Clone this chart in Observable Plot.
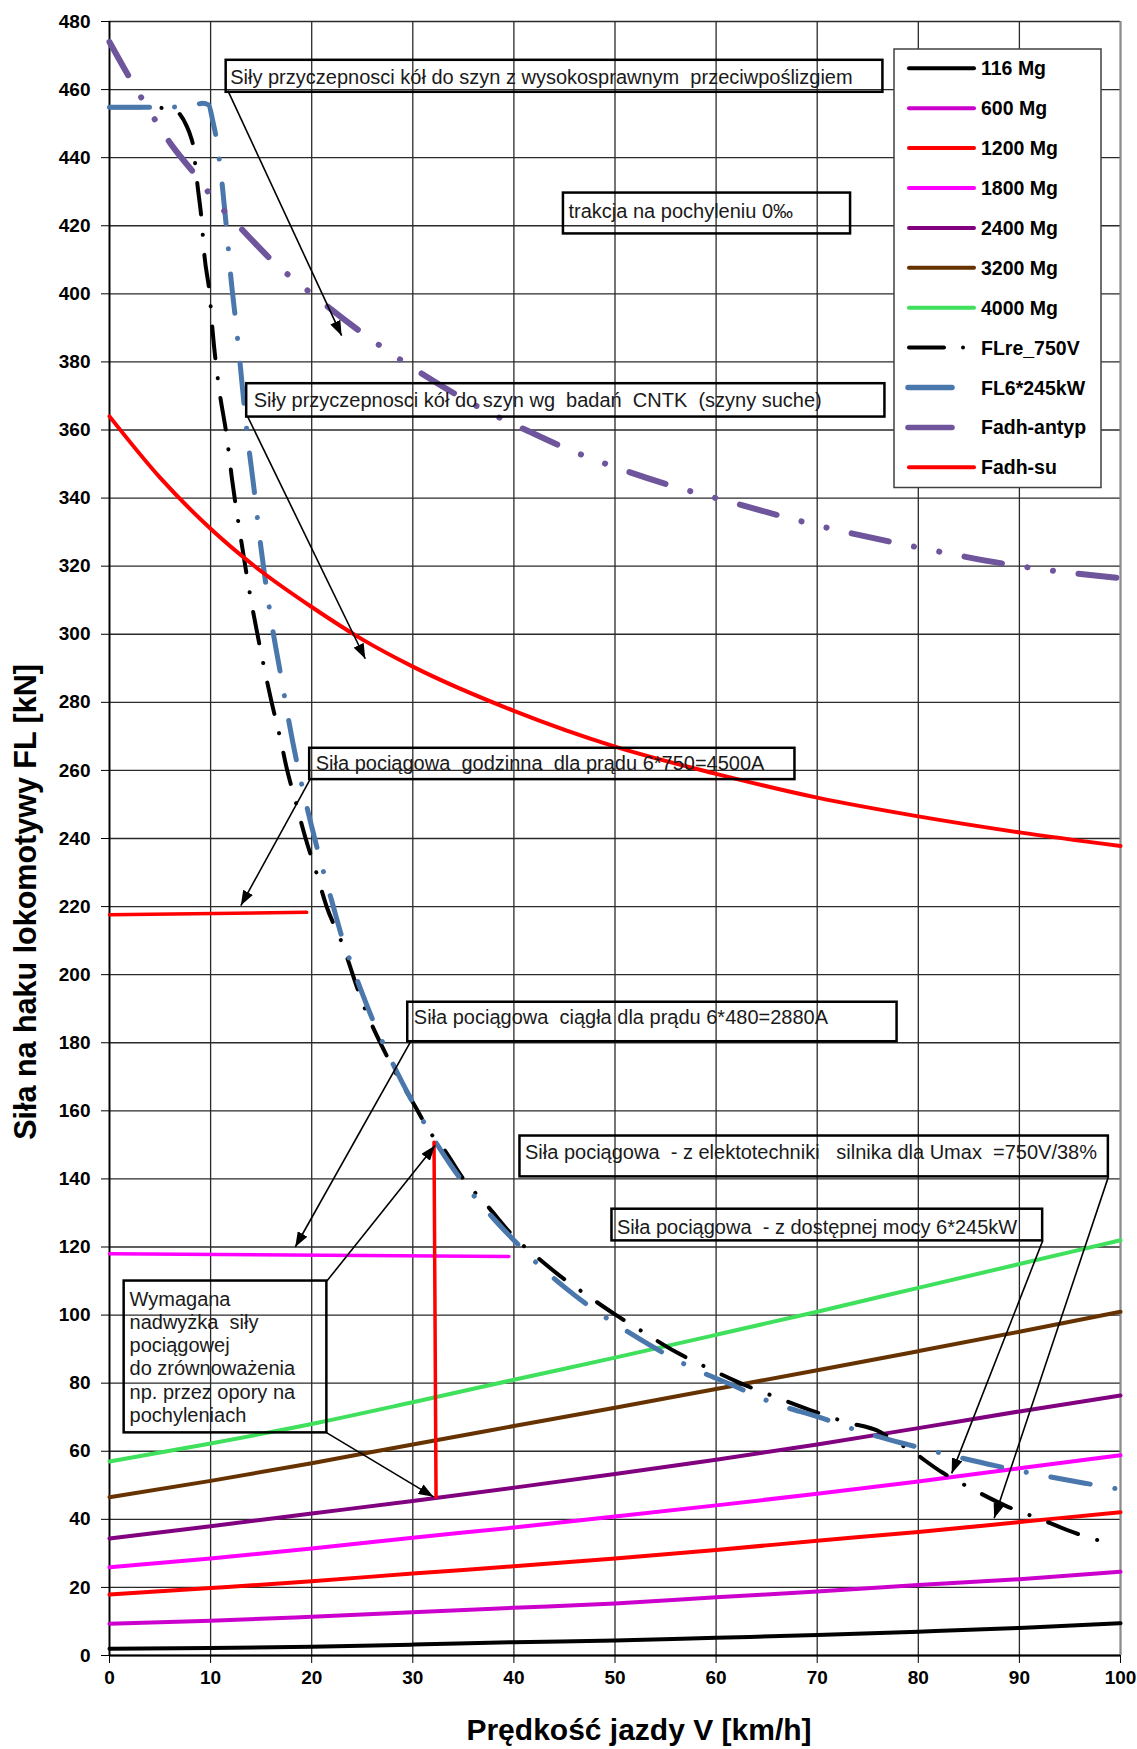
<!DOCTYPE html>
<html lang="pl">
<head>
<meta charset="utf-8">
<title>Siła na haku lokomotywy</title>
<script src="https://cdn.jsdelivr.net/npm/d3@7"></script>
<script src="https://cdn.jsdelivr.net/npm/@observablehq/plot@0.6"></script>
<style>
  html, body { margin: 0; padding: 0; background: #fff; }
  svg { display: block; }
</style>
</head>
<body>
<div id="chart"></div>
<script>
// ---------------- data ----------------
const speed = [0, 10, 20, 30, 40, 50, 60, 70, 80, 90, 100];
const res116 = [2.0, 2.2, 2.6, 3.2, 3.9, 4.4, 5.2, 6.0, 7.0, 8.1, 9.5];
const res600 = [9.3, 10.2, 11.4, 12.7, 14.0, 15.3, 17.1, 18.8, 20.7, 22.4, 24.6];
const res1200 = [17.9, 19.8, 21.8, 24.1, 26.2, 28.5, 31.0, 33.7, 36.3, 39.2, 42.1];
const res1800 = [25.9, 28.5, 31.4, 34.6, 37.6, 40.8, 44.1, 47.5, 51.1, 55.0, 58.8];
const res2400 = [34.4, 38.0, 41.7, 45.4, 49.3, 53.3, 57.5, 62.0, 66.8, 71.7, 76.4];
const res3200 = [46.5, 51.3, 56.5, 62.0, 67.4, 72.8, 78.3, 83.8, 89.4, 95.1, 101.0];
const res4000 = [57.0, 62.3, 68.0, 74.4, 81.0, 87.5, 94.2, 101.0, 108.0, 115.0, 122.0];

const flReSpeed = [0, 3, 5.3, 6.5, 7.0, 7.6, 8.0, 8.3, 8.5, 8.7, 9.1, 9.4, 9.9, 10.2, 10.8, 11.6, 12.1, 13, 14, 15, 16, 17, 17.5, 18.4, 19.4, 20.4, 21.5, 22.9, 25, 27.8, 30, 32, 33, 35, 37.4, 40, 42.5, 45, 47, 50, 52.8, 56, 59.3, 62.4, 66, 69.3, 72.8, 76.2, 77.5, 79.2, 82.3, 85.4, 88.7, 92.1, 95.5, 99.3];
const flReForce = [454.8, 454.8, 454.6, 454, 452.6, 449.5, 446.5, 443, 437.5, 432, 422, 411, 400, 389, 373, 358, 346, 328, 310, 294.5, 280.5, 268, 261, 251, 240, 230.6, 219.8, 210, 192, 174, 162.5, 152.5, 149, 140, 132, 123, 116.5, 110.5, 106.3, 100.2, 95, 89.2, 84.3, 80, 75.8, 72.1, 68.6, 65.7, 63.3, 60.3, 53.9, 48.8, 43.9, 40, 36, 32.6];

const fl6Speed = [0, 5, 8.5, 9.2, 9.8, 10.2, 10.6, 11.0, 11.6, 12.0, 12.5, 13.0, 13.5, 14.3, 15, 16, 17, 18.1, 19, 20, 21, 22, 23.1, 24, 25, 26, 28, 30, 32.2, 34, 36, 38, 40, 42.5, 45, 47.5, 50, 53.5, 57.4, 61.7, 65.8, 70.1, 74.4, 78.9, 83.2, 87.7, 92.1, 96.7, 100];
const fl6Force = [454.8, 454.8, 455.5, 456, 455.5, 451, 445, 436, 418.4, 405, 391.5, 377, 362, 342.6, 325, 304, 287, 268.7, 256, 243.5, 232, 221.5, 210, 202.5, 194.5, 187, 174, 162.5, 151.1, 143, 135.2, 128.3, 122, 114.6, 108.2, 102.5, 97.5, 91.1, 84.8, 79.3, 74.0, 70.1, 65.7, 62.0, 58.8, 55.7, 53.0, 50.5, 48.8];

const fadhAntypSpeed = [0, 2.2, 4.7, 6, 8.7, 10.1, 13.2, 16, 20, 25, 31.3, 37.1, 41.4, 45.4, 49.9, 56.2, 60, 70, 80, 90, 100];
const fadhAntypForce = [474, 462.4, 450.2, 444.3, 434.2, 428.6, 418.6, 410, 400, 388.5, 375.8, 365.8, 359.7, 354.3, 349.2, 343.1, 340, 332, 325.5, 320, 316.5];

const fadhSuSpeed = [0, 5, 10, 15, 20, 25, 30, 40, 50, 60, 70, 80, 90, 100];
const fadhSuForce = [364, 346, 331, 318.5, 308, 298.5, 290.5, 277.5, 267, 259, 252, 246.5, 241.8, 237.8];

// extra marker segments
const hourlySpeed = [0, 19.5];
const hourlyForce = [217.6, 218.3];
const contSpeed = [0, 39.5];
const contForce = [118.0, 117.2];
const marginSpeed = [32.1, 32.3];
const marginForce = [150.8, 46.6];

const xTickValues = [0, 10, 20, 30, 40, 50, 60, 70, 80, 90, 100];
const yTickValues = [0, 20, 40, 60, 80, 100, 120, 140, 160, 180, 200, 220, 240, 260, 280, 300, 320, 340, 360, 380, 400, 420, 440, 460, 480];

const legendNames = ["116 Mg", "600 Mg", "1200 Mg", "1800 Mg", "2400 Mg", "3200 Mg", "4000 Mg", "FLre_750V", "FL6*245kW", "Fadh-antyp", "Fadh-su"];
const legendColors = ["#000000", "#cc00cc", "#ff0000", "#ff00ff", "#800080", "#663300", "#3ee05c", "#000000", "#4a78ad", "#6e559c", "#ff0000"];
const legendKinds = ["solid", "solid", "solid", "solid", "solid", "solid", "solid", "dashdot", "short", "short", "solid"];

// annotation texts (data coordinates: km/h, kN)
const noteTexts = [
  "Siły przyczepnosci kół do szyn z wysokosprawnym  przeciwpoślizgiem",
  "trakcja na pochyleniu 0‰",
  "Siły przyczepnosci kół do szyn wg  badań  CNTK  (szyny suche)",
  "Siła pociągowa  godzinna  dla prądu 6*750=4500A",
  "Siła pociągowa  ciągła dla prądu 6*480=2880A",
  "Siła pociągowa  - z elektotechniki   silnika dla Umax  =750V/38%",
  "Siła pociągowa  - z dostępnej mocy 6*245kW"
];
const noteTextX = [11.94, 45.4, 14.27, 20.4, 30.1, 41.1, 50.2];
const noteTextY = [461.5, 422.3, 366.7, 260.1, 185.4, 145.9, 123.9];
const noteBoxX1 = [11.54, 44.9, 13.57, 19.8, 29.5, 40.6, 49.7, 1.45];
const noteBoxX2 = [76.5, 73.3, 76.7, 67.8, 77.9, 98.8, 92.3, 21.5];
const noteBoxY1 = [459.2, 417.6, 363.8, 257.3, 180.3, 140.6, 121.8, 65.4];
const noteBoxY2 = [468.6, 429.6, 373.6, 266.5, 191.9, 152.6, 131.1, 110.0];
const boxHLines = ["Wymagana", "nadwyżka  siły", "pociągowej", "do zrównoważenia", "np. przez opory na", "pochyleniach"];
const boxHTextX = 1.98, boxHTextY = 102.7, boxHLineStep = 6.81;
const arrowX1 = [11.71, 13.69, 19.83, 29.8, 21.5, 21.5, 98.8, 92.3];
const arrowY1 = [459.7, 363.8, 257.3, 180.4, 110.0, 65.4, 140.6, 121.8];
const arrowX2 = [22.96, 25.3, 12.99, 18.37, 32.2, 32.05, 87.5, 83.3];
const arrowY2 = [387.7, 292.8, 220.3, 120.0, 149.8, 46.6, 40.3, 53.5];

// ---------------- build tables ----------------
const FONT = "'Liberation Sans', Arial, Helvetica, sans-serif";
const rows = (xs, ys) => xs.map((x, i) => ({x, y: ys[i]}));
const resistance = [
  {data: rows(speed, res116), color: legendColors[0]},
  {data: rows(speed, res600), color: legendColors[1]},
  {data: rows(speed, res1200), color: legendColors[2]},
  {data: rows(speed, res1800), color: legendColors[3]},
  {data: rows(speed, res2400), color: legendColors[4]},
  {data: rows(speed, res3200), color: legendColors[5]},
  {data: rows(speed, res4000), color: legendColors[6]}
];
const notes = noteTexts.map((t, i) => ({t, x: noteTextX[i], y: noteTextY[i]}));
boxHLines.forEach((t, i) => notes.push({t, x: boxHTextX, y: boxHTextY - i * boxHLineStep}));
const boxes = noteBoxX1.map((x1, i) => ({x1, x2: noteBoxX2[i], y1: noteBoxY1[i], y2: noteBoxY2[i]}));
const arrows = arrowX1.map((x1, i) => ({x1, y1: arrowY1[i], x2: arrowX2[i], y2: arrowY2[i]}));

const chart = Plot.plot({
  width: 1137,
  height: 1749,
  marginLeft: 109,
  marginRight: 17,
  marginTop: 21,
  marginBottom: 94,
  style: {fontFamily: FONT, background: "#fff", color: "#000"},
  x: {domain: [0, 100]},
  y: {domain: [0, 480]},
  marks: [
    Plot.gridX({ticks: xTickValues, stroke: "#2a2a2a", strokeOpacity: 1, strokeWidth: 1.3}),
    Plot.gridY({ticks: yTickValues, stroke: "#2a2a2a", strokeOpacity: 1, strokeWidth: 1.3}),
    Plot.ruleX([100], {stroke: "#8c8c8c", strokeWidth: 2}),
    Plot.ruleX([0], {stroke: "#000", strokeWidth: 1.8}),
    Plot.ruleY([0], {stroke: "#000", strokeWidth: 1.8}),
    ...resistance.map(s => Plot.line(s.data, {x: "x", y: "y", stroke: s.color, strokeWidth: 4, curve: "monotone-x"})),
    Plot.line(rows(hourlySpeed, hourlyForce), {x: "x", y: "y", stroke: "#ff0000", strokeWidth: 3.5}),
    Plot.line(rows(contSpeed, contForce), {x: "x", y: "y", stroke: "#ff00ff", strokeWidth: 3.5}),
    Plot.line(rows(flReSpeed, flReForce), {x: "x", y: "y", stroke: "#000", strokeWidth: 4, curve: "monotone-x",
      strokeDasharray: "32,20,0.1,20", strokeLinecap: "round"}),
    Plot.line(rows(fl6Speed, fl6Force), {x: "x", y: "y", stroke: legendColors[8], strokeWidth: 5, curve: "monotone-x",
      strokeDasharray: "40,25,0.1,25", strokeLinecap: "round"}),
    Plot.line(rows(fadhAntypSpeed, fadhAntypForce), {x: "x", y: "y", stroke: legendColors[9], strokeWidth: 6, curve: "monotone-x",
      strokeDasharray: "38,25.7,0.1,25.7,0.1,25.7", strokeLinecap: "round"}),
    Plot.line(rows(fadhSuSpeed, fadhSuForce), {x: "x", y: "y", stroke: "#ff0000", strokeWidth: 4, curve: "monotone-x"}),
    Plot.line(rows(marginSpeed, marginForce), {x: "x", y: "y", stroke: "#ff0000", strokeWidth: 3.5}),
    Plot.rect(boxes, {x1: "x1", x2: "x2", y1: "y1", y2: "y2", fill: "none", stroke: "#000", strokeWidth: 2.5}),
    Plot.text(notes, {x: "x", y: "y", text: "t", textAnchor: "start", lineAnchor: "bottom", fontSize: 20, fill: "#1a1a1a"}),
    Plot.link(arrows, {x1: "x1", y1: "y1", x2: "x2", y2: "y2", stroke: "#000", strokeWidth: 1.6}),
    Plot.axisX({ticks: xTickValues, tickSize: 8, tickPadding: 7, fontSize: 19, fontWeight: "bold", label: null}),
    Plot.axisY({ticks: yTickValues, tickSize: 8, tickPadding: 11, fontSize: 19, fontWeight: "bold", label: null})
  ]
});

document.getElementById("chart").appendChild(chart);
const svg = d3.select(chart);

// filled arrowheads
const defs = svg.insert("defs", ":first-child");
defs.append("marker")
  .attr("id", "arrowHead")
  .attr("viewBox", "0 0 10 10")
  .attr("refX", 10).attr("refY", 5)
  .attr("markerWidth", 15).attr("markerHeight", 11)
  .attr("markerUnits", "userSpaceOnUse")
  .attr("preserveAspectRatio", "none")
  .attr("orient", "auto")
  .append("path").attr("d", "M0,0L10,5L0,10Z").attr("fill", "#000");
svg.selectAll('g[aria-label="link"] path').attr("marker-end", "url(#arrowHead)");
svg.selectAll('g[aria-label="text"] text').style("white-space", "pre");

// legend
const lg = svg.append("g").attr("font-family", FONT).attr("font-weight", "bold").attr("font-size", 19.5)
  .attr("text-anchor", "start");
lg.append("rect").attr("x", 894).attr("y", 49).attr("width", 207).attr("height", 438.5)
  .attr("fill", "#fff").attr("stroke", "#404040").attr("stroke-width", 1.5);
legendNames.forEach((name, i) => {
  const cy = 68.3 + i * 39.9;
  const kind = legendKinds[i];
  const col = legendColors[i];
  if (kind === "solid") {
    lg.append("line").attr("x1", 909).attr("x2", 974).attr("y1", cy).attr("y2", cy)
      .attr("stroke", col).attr("stroke-width", 4).attr("stroke-linecap", "round");
  } else if (kind === "dashdot") {
    lg.append("line").attr("x1", 909).attr("x2", 944).attr("y1", cy).attr("y2", cy)
      .attr("stroke", col).attr("stroke-width", 4).attr("stroke-linecap", "round");
    lg.append("circle").attr("cx", 963).attr("cy", cy).attr("r", 2).attr("fill", col);
  } else {
    lg.append("line").attr("x1", 908).attr("x2", 952).attr("y1", cy).attr("y2", cy)
      .attr("stroke", col).attr("stroke-width", 5.5).attr("stroke-linecap", "round");
  }
  lg.append("text").attr("x", 981).attr("y", cy + 7).attr("text-anchor", "start").attr("fill", "#000").text(name);
});

// axis titles
svg.append("text")
  .attr("transform", "translate(36,902) rotate(-90)")
  .attr("text-anchor", "middle")
  .attr("font-family", FONT).attr("font-weight", "bold").attr("font-size", 30.5)
  .attr("fill", "#000")
  .text("Siła na haku lokomotywy FL [kN]");
svg.append("text")
  .attr("x", 639).attr("y", 1740)
  .attr("text-anchor", "middle")
  .attr("font-family", FONT).attr("font-weight", "bold").attr("font-size", 30)
  .attr("fill", "#000")
  .text("Prędkość jazdy V [km/h]");
</script>
</body>
</html>
